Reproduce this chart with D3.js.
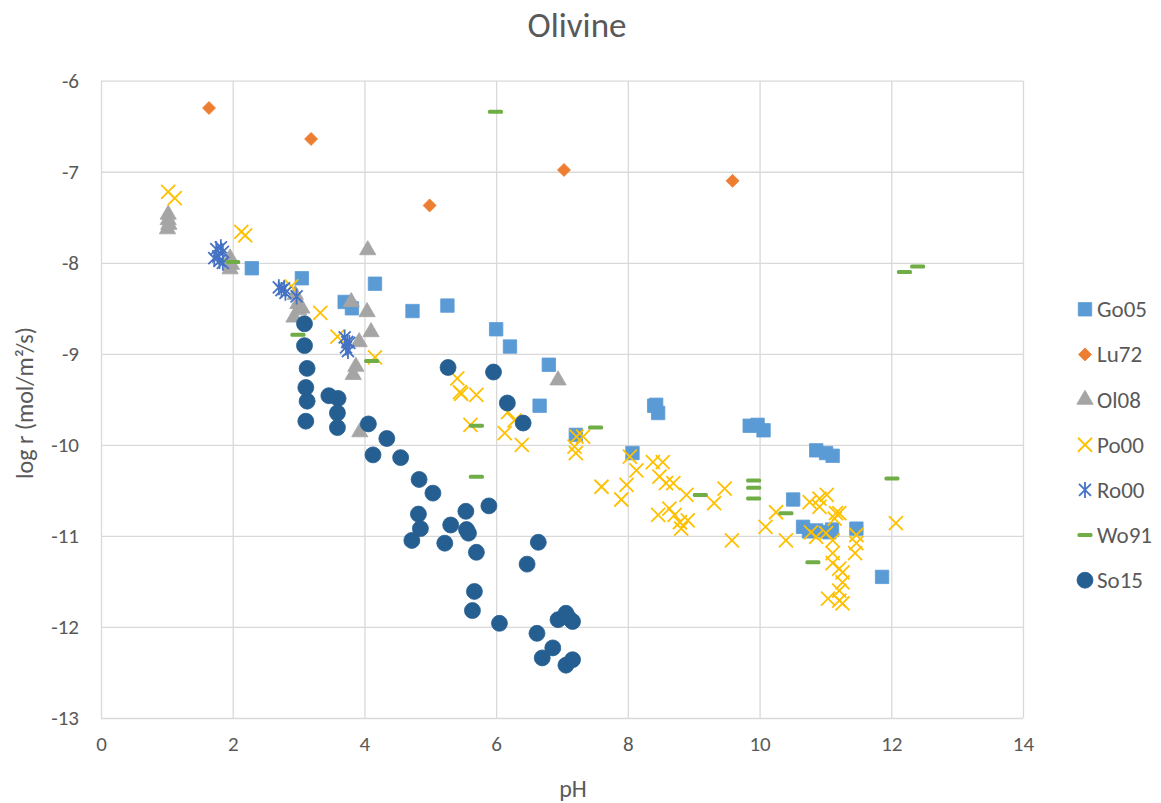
<!DOCTYPE html>
<html>
<head>
<meta charset="utf-8">
<script src="https://cdn.jsdelivr.net/npm/d3@7"></script>
<style>
  body { margin: 0; background: #fff; }
  text { font-family: Calibri, Carlito, Lato, sans-serif; fill: #595959; }
  .grid line { stroke: #d9d9d9; stroke-width: 1.3; }
  .grid path { display: none; }
  .ticks path, .ticks line { display: none; }
  .ticks text { font-size: 21px; }
</style>
</head>
<body>
<script>
// tick values
var xTicks = [0, 2, 4, 6, 8, 10, 12, 14];
var yTicks = [-6, -7, -8, -9, -10, -11, -12, -13];

// series names, legend order
var seriesNames = ["Go05", "Lu72", "Ol08", "Po00", "Ro00", "Wo91", "So15"];

// [pH, log r]
var go05 = [[2.29,-8.06],[3.05,-8.17],[3.70,-8.43],[3.81,-8.50],[4.16,-8.23],[4.73,-8.53],[5.26,-8.47],
  [6.00,-8.73],[6.21,-8.92],[6.66,-9.57],[6.80,-9.12],[7.21,-9.89],[8.07,-10.09],[8.40,-9.57],[8.43,-9.56],
  [8.46,-9.65],[9.85,-9.79],[9.97,-9.78],[10.06,-9.84],[10.86,-10.06],[11.01,-10.09],[11.11,-10.12],
  [10.51,-10.60],[10.66,-10.90],[10.75,-10.95],[10.86,-10.94],[11.06,-10.96],[11.10,-10.93],[11.47,-10.92],[11.86,-11.45]];
var lu72 = [[1.64,-6.30],[3.19,-6.64],[4.99,-7.37],[7.03,-6.98],[9.59,-7.10]];
var ol08 = [[1.02,-7.47],[1.02,-7.53],[1.03,-7.58],[1.01,-7.63],[1.96,-7.95],[1.98,-8.02],[1.96,-8.07],
  [2.95,-8.35],[2.99,-8.45],[3.00,-8.52],[2.93,-8.60],[3.05,-8.50],[3.80,-8.43],[4.05,-7.86],[4.04,-8.54],
  [4.10,-8.76],[3.92,-8.87],[3.87,-9.14],[3.83,-9.23],[3.93,-9.86],[6.94,-9.29]];
var po00 = [[1.02,-7.22],[1.12,-7.29],[2.13,-7.66],[2.19,-7.70],[2.89,-8.26],[3.33,-8.55],[3.59,-8.81],
  [4.16,-9.04],[5.41,-9.27],[5.45,-9.42],[5.47,-9.44],[5.70,-9.45],[5.61,-9.78],[6.13,-9.87],[6.39,-10.00],
  [6.18,-9.64],[6.28,-9.73],[7.22,-9.91],[7.32,-9.91],[7.19,-10.02],[7.21,-10.09],[8.03,-10.13],[8.13,-10.28],
  [7.60,-10.46],[7.98,-10.44],[7.90,-10.60],[8.38,-10.19],[8.53,-10.19],[8.48,-10.35],[8.58,-10.42],[8.69,-10.42],
  [8.89,-10.55],[8.46,-10.77],[8.63,-10.70],[8.71,-10.77],[8.79,-10.85],[8.91,-10.83],[8.81,-10.92],
  [9.31,-10.64],[9.47,-10.48],[9.58,-11.05],[10.09,-10.90],[10.25,-10.74],[10.40,-11.05],
  [10.76,-10.63],[10.91,-10.59],[11.02,-10.55],[10.91,-10.68],[11.16,-10.75],[11.21,-10.75],[11.14,-10.81],
  [10.78,-10.96],[10.86,-11.01],[11.01,-10.97],[11.11,-11.05],[11.11,-11.19],[11.11,-11.30],[11.21,-11.36],
  [11.26,-11.40],[11.26,-11.51],[11.21,-11.60],[11.04,-11.69],[11.21,-11.71],[11.26,-11.74],
  [11.47,-10.99],[11.47,-11.08],[11.45,-11.19],[12.07,-10.86]];
var ro00 = [[1.75,-7.85],[1.82,-7.83],[1.85,-7.88],[1.78,-7.93],[1.72,-7.95],[1.80,-7.98],[1.85,-8.00],
  [2.70,-8.27],[2.74,-8.30],[2.78,-8.28],[2.80,-8.33],[2.97,-8.37],
  [3.70,-8.82],[3.74,-8.87],[3.72,-8.93],[3.75,-8.97],[3.77,-8.88]];
var wo91 = [[2.00,-7.99],[2.99,-8.79],[4.11,-9.08],[5.70,-9.79],[5.70,-10.35],[5.99,-6.34],[7.51,-9.81],
  [9.10,-10.55],[9.91,-10.39],[9.91,-10.47],[9.91,-10.59],[10.40,-10.75],[10.81,-11.29],[12.01,-10.37],
  [12.20,-8.10],[12.40,-8.04]];
var so15 = [[3.09,-8.67],[3.09,-8.91],[3.13,-9.16],[3.11,-9.37],[3.13,-9.52],[3.11,-9.74],[3.46,-9.46],
  [3.60,-9.49],[3.59,-9.65],[3.59,-9.81],[4.06,-9.77],[4.34,-9.93],[4.13,-10.11],[4.55,-10.14],[4.83,-10.38],
  [5.27,-9.15],[5.96,-9.20],[6.17,-9.54],[6.41,-9.76],[5.04,-10.53],[4.82,-10.76],[4.85,-10.92],[4.72,-11.05],
  [5.31,-10.88],[5.22,-11.08],[5.54,-10.73],[5.55,-10.93],[5.58,-10.97],[5.70,-11.18],[5.89,-10.67],
  [5.67,-11.61],[5.64,-11.82],[6.05,-11.96],[6.64,-11.07],[6.47,-11.31],[6.62,-12.07],[6.86,-12.23],
  [6.70,-12.34],[7.06,-12.42],[7.16,-12.36],[6.94,-11.92],[7.06,-11.85],[7.16,-11.94],[7.10,-11.90]];

var width = 1161, height = 803;

var svg = d3.select("body").append("svg")
  .attr("width", width)
  .attr("height", height);

var x = d3.scaleLinear().domain([0, 14]).range([101, 1023]);
var y = d3.scaleLinear().domain([-13, -6]).range([718, 80.7]);

//gridlines
svg.append("g").attr("class", "grid")
  .attr("transform", "translate(0,718)")
  .call(d3.axisBottom(x).tickValues(xTicks).tickSize(-(718 - 80.7)).tickFormat(""));
svg.append("g").attr("class", "grid")
  .attr("transform", "translate(101,0)")
  .call(d3.axisLeft(y).tickValues(yTicks).tickSize(-(1023 - 101)).tickFormat(""));

//tick labels (plain hyphen like the original)
var fmt = function(d){ return String(d); };
svg.append("g").attr("class", "ticks")
  .attr("transform", "translate(0,726)")
  .call(d3.axisBottom(x).tickValues(xTicks).tickSize(0).tickPadding(10).tickFormat(fmt));
svg.append("g").attr("class", "ticks")
  .attr("transform", "translate(79,0)")
  .call(d3.axisLeft(y).tickValues(yTicks).tickSize(0).tickPadding(0).tickFormat(fmt));

//title + axis titles
svg.append("text").attr("x", 577).attr("y", 37).attr("text-anchor", "middle")
  .style("font-size", "35px").text("Olivine");
svg.append("text").attr("x", 573).attr("y", 797).attr("text-anchor", "middle")
  .style("font-size", "24px").text("pH");
svg.append("text").attr("transform", "translate(33,403) rotate(-90)").attr("text-anchor", "middle")
  .style("font-size", "24px").text("log r (mol/m²/s)");

//marker makers
var symSquare = d3.symbol().type(d3.symbolSquare).size(180)();
var symDiamond = "M0,-6.5L6.5,0L0,6.5L-6.5,0Z";
var symTriangle = d3.symbol().type(d3.symbolTriangle).size(115)();
var symCircle = d3.symbol().type(d3.symbolCircle).size(200)();
var symX = "M-7,-7L7,7M-7,7L7,-7";
var symStar = "M-6,-6L6,6M-6,6L6,-6M0,-8L0,8";

var series = [
  {name: "Go05", data: go05, color: "#5b9bd5", path: symSquare, stroke: false},
  {name: "Lu72", data: lu72, color: "#ed7d31", path: symDiamond, stroke: false},
  {name: "Ol08", data: ol08, color: "#a5a5a5", path: symTriangle, stroke: false},
  {name: "Po00", data: po00, color: "#ffc000", path: symX, stroke: true},
  {name: "Ro00", data: ro00, color: "#4472c4", path: symStar, stroke: true},
  {name: "Wo91", data: wo91, color: "#70ad47", path: null, stroke: false},
  {name: "So15", data: so15, color: "#255e91", path: symCircle, stroke: false}
];

function drawMarker(g, s) {
  if (s.path === null) {
    g.append("rect").attr("x", -7.5).attr("y", -2).attr("width", 15).attr("height", 4)
      .attr("rx", 1.5).attr("fill", s.color);
  } else if (s.stroke) {
    g.append("path").attr("d", s.path).attr("fill", "none")
      .attr("stroke", s.color).attr("stroke-width", 1.8);
  } else {
    g.append("path").attr("d", s.path).attr("fill", s.color)
      .attr("stroke", s.color).attr("stroke-width", 0.8);
  }
}

//points
series.forEach(function(s){
  svg.append("g").selectAll("g")
    .data(s.data)
    .enter()
    .append("g")
    .attr("transform", function(d){ return "translate(" + x(d[0]) + "," + y(d[1]) + ")"; })
    .each(function(){ drawMarker(d3.select(this), s); });
});

//legend
var legend = svg.append("g").selectAll("g")
  .data(series)
  .enter()
  .append("g")
  .attr("transform", function(d, i){ return "translate(1085," + (309.3 + i * 45.15) + ")"; });
legend.each(function(s){ drawMarker(d3.select(this), s); });
legend.append("text").attr("x", 12).attr("y", 8)
  .style("font-size", "23px")
  .text(function(d){ return d.name; });
</script>
</body>
</html>
